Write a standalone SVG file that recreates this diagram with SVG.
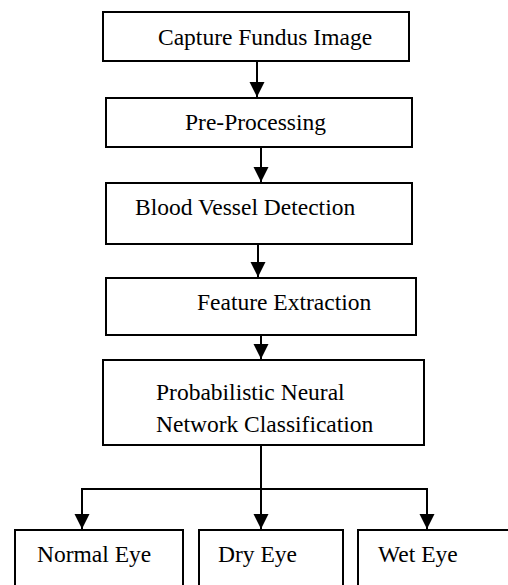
<svg xmlns="http://www.w3.org/2000/svg" width="508" height="585" viewBox="0 0 508 585">
  <style>
    .box { fill: #ffffff; stroke: #000000; stroke-width: 2; }
    .lbl { font-family: 'Liberation Serif', 'DejaVu Serif', serif; font-size: 23.5px; fill: #000000; }
    .wire { fill: none; stroke: #000000; stroke-width: 2; }
  </style>
  <defs>
    <marker id="head" viewBox="0 0 15 17" refX="15" refY="7.5" markerWidth="15" markerHeight="17" markerUnits="userSpaceOnUse" orient="auto">
      <path d="M0,0 L15,7.5 L0,15 Z" fill="#000000"/>
    </marker>
  </defs>
  <rect width="508" height="585" fill="#ffffff"/>

  <g id="connectors">
    <line class="wire" x1="257" y1="61" x2="257" y2="97" marker-end="url(#head)"/>
    <line class="wire" x1="261" y1="147" x2="261" y2="182" marker-end="url(#head)"/>
    <line class="wire" x1="258" y1="244" x2="258" y2="277" marker-end="url(#head)"/>
    <line class="wire" x1="261" y1="335" x2="261" y2="359" marker-end="url(#head)"/>
    <polyline class="wire" points="261,445 261,489"/>
    <polyline class="wire" points="82,490 82,489 427,489 427,490"/>
    <line class="wire" x1="82" y1="489" x2="82" y2="529" marker-end="url(#head)"/>
    <line class="wire" x1="261" y1="489" x2="261" y2="529" marker-end="url(#head)"/>
    <line class="wire" x1="427" y1="489" x2="427" y2="529" marker-end="url(#head)"/>
  </g>

  <g id="capture">
    <rect class="box" x="103" y="12" width="306" height="49"/>
    <text class="lbl" x="158" y="45">Capture Fundus Image</text>
  </g>
  <g id="preprocessing">
    <rect class="box" x="106" y="98" width="306" height="49"/>
    <text class="lbl" x="185" y="130">Pre-Processing</text>
  </g>
  <g id="vessel-detection">
    <rect class="box" x="106" y="183" width="306" height="61"/>
    <text class="lbl" x="135" y="215">Blood Vessel Detection</text>
  </g>
  <g id="feature-extraction">
    <rect class="box" x="106" y="278" width="310" height="57"/>
    <text class="lbl" x="197" y="310">Feature Extraction</text>
  </g>
  <g id="pnn-classification">
    <rect class="box" x="103" y="360" width="321" height="85"/>
    <text class="lbl" x="156" y="400">Probabilistic Neural</text>
    <text class="lbl" x="156" y="432">Network Classification</text>
  </g>
  <g id="normal-eye">
    <rect class="box" x="15" y="530" width="168" height="70"/>
    <text class="lbl" x="37" y="562">Normal Eye</text>
  </g>
  <g id="dry-eye">
    <rect class="box" x="199" y="530" width="144" height="70"/>
    <text class="lbl" x="218" y="562">Dry Eye</text>
  </g>
  <g id="wet-eye">
    <rect class="box" x="358" y="530" width="160" height="70"/>
    <text class="lbl" x="378" y="562">Wet Eye</text>
  </g>
</svg>
